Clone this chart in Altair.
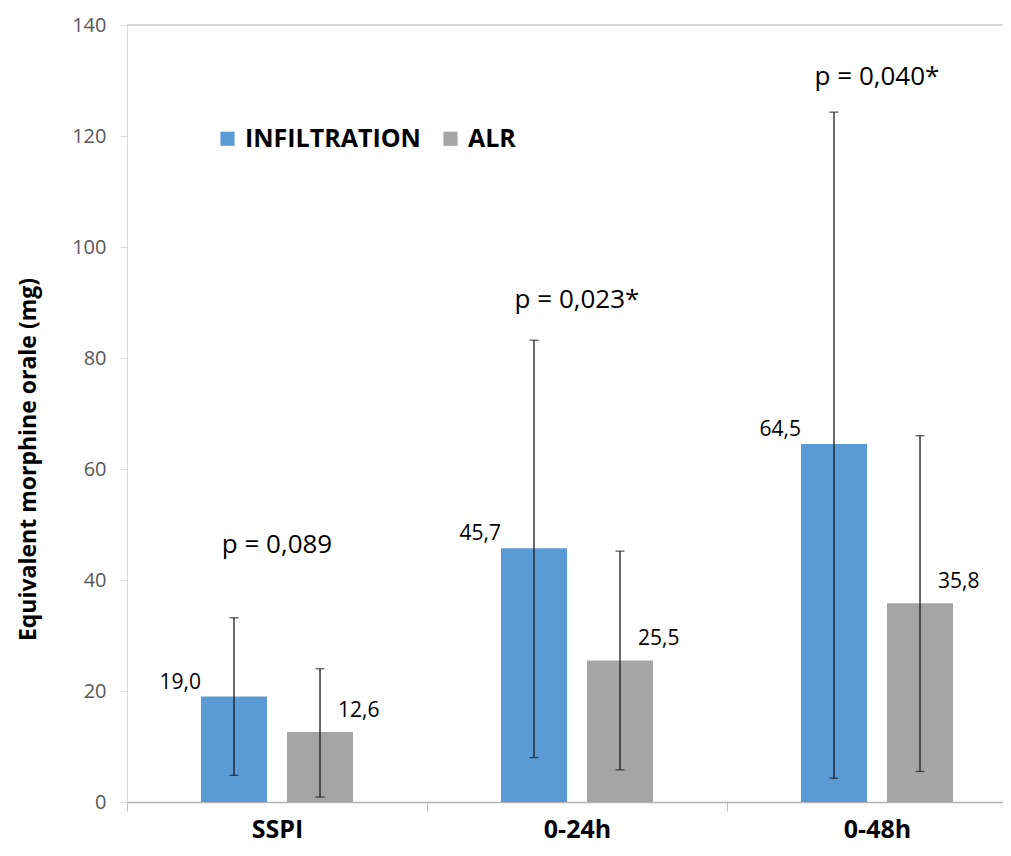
import altair as alt
import pandas as pd

categories = ["SSPI", "0-24h", "0-48h"]
groups = ["INFILTRATION", "ALR"]
colors = ["#5B9BD5", "#A5A5A5"]

infiltration_mean = [19.0, 45.7, 64.5]
infiltration_low = [4.8, 8.0, 4.3]
infiltration_high = [33.2, 83.2, 124.3]

alr_mean = [12.6, 25.5, 35.8]
alr_low = [0.9, 5.8, 5.5]
alr_high = [24.0, 45.2, 66.0]

p_values = ["p = 0,089", "p = 0,023*", "p = 0,040*"]
p_label_y = [46.3, 90.5, 130.6]

y_ticks = [0, 20, 40, 60, 80, 100, 120, 140]

rows = []
for i, c in enumerate(categories):
    rows.append(dict(category=c, group=groups[0], value=infiltration_mean[i],
                     low=infiltration_low[i], high=infiltration_high[i]))
    rows.append(dict(category=c, group=groups[1], value=alr_mean[i],
                     low=alr_low[i], high=alr_high[i]))
df = pd.DataFrame(rows)
df["label"] = df["value"].map(lambda v: f"{v:.1f}".replace(".", ","))

pdf = pd.DataFrame({"category": categories, "y": p_label_y, "text": p_values})

FONT = "Open Sans"

x_enc = alt.X(
    "category:N", sort=categories, title=None,
    scale=alt.Scale(range=[0, 900], paddingInner=0, paddingOuter=0),
    axis=alt.Axis(labelFontSize=25, labelFontWeight="bold", labelColor="#000000",
                  labelAngle=0, domainColor="#b4b4b4", domainWidth=1.5,
                  tickColor="#bfbfbf", tickSize=9, tickBand="extent", grid=False,
                  labelPadding=6, labelFont=FONT),
)
xo_enc = alt.XOffset("group:N", sort=groups,
                     scale=alt.Scale(paddingInner=0.2326, paddingOuter=0.86))
y_scale = alt.Scale(domain=[0, 140], nice=False)

base = alt.Chart(df).encode(x=x_enc, xOffset=xo_enc)

bars = base.mark_bar().encode(
    y=alt.Y("value:Q", scale=y_scale, title="Equivalent morphine orale (mg)",
            axis=alt.Axis(values=y_ticks, grid=False, labelFontSize=20,
                          labelColor="#595959", domainColor="#d9d9d9",
                          tickColor="#d9d9d9", tickSize=7, labelPadding=14,
                          titleFontSize=23, titleFontWeight="bold",
                          titleColor="#000000", titleBaseline="middle",
                          titleX=-99, titleY=434, labelFont=FONT, titleFont=FONT)),
    color=alt.Color("group:N", sort=groups,
                    scale=alt.Scale(domain=groups, range=colors),
                    legend=alt.Legend(orient="none", legendX=88, legendY=101,
                                      direction="horizontal", title=None,
                                      symbolType="square", symbolSize=200,
                                      symbolStrokeWidth=0, labelFontSize=25,
                                      labelFontWeight="bold", labelColor="#000000",
                                      labelFont=FONT, columnPadding=17,
                                      labelOffset=5, padding=0, labelLimit=0)),
)

err = base.mark_rule(color="#1a1a1a", strokeWidth=1.3).encode(
    y=alt.Y("low:Q", scale=y_scale), y2="high:Q")
cap_low = base.mark_tick(color="#1a1a1a", thickness=1.3, size=9).encode(
    y=alt.Y("low:Q", scale=y_scale))
cap_high = base.mark_tick(color="#1a1a1a", thickness=1.3, size=9).encode(
    y=alt.Y("high:Q", scale=y_scale))

lab_inf = base.transform_filter(alt.datum.group == groups[0]).mark_text(
    align="right", baseline="bottom", dx=-33, dy=-4, fontSize=21,
    font=FONT, color="#000000").encode(y=alt.Y("value:Q", scale=y_scale), text="label:N")
lab_alr = base.transform_filter(alt.datum.group == groups[1]).mark_text(
    align="left", baseline="bottom", dx=18, dy=-11, fontSize=21,
    font=FONT, color="#000000").encode(y=alt.Y("value:Q", scale=y_scale), text="label:N")

ptext = alt.Chart(pdf).mark_text(fontSize=26, font=FONT, color="#000000",
                                 baseline="middle").encode(
    x=alt.X("category:N", sort=categories),
    y=alt.Y("y:Q", scale=y_scale),
    text="text:N")

top_line = alt.Chart(pdf).mark_rule(color="#d9d9d9", strokeWidth=1.3).encode(
    y=alt.datum(140), x=alt.value(0), x2=alt.value(900))

chart = alt.layer(top_line, bars, err, cap_low, cap_high, lab_inf, lab_alr, ptext).properties(
    width=876, height=777,
    autosize=alt.AutoSizeParams(type="none"),
    padding={"left": 119, "top": 17, "right": 0, "bottom": 46},
).configure(
    font=FONT,
    view=alt.ViewConfig(stroke="transparent", strokeWidth=0, strokeOpacity=0),
)

chart.save("out.html", embed_options={"renderer": "svg", "actions": False})
